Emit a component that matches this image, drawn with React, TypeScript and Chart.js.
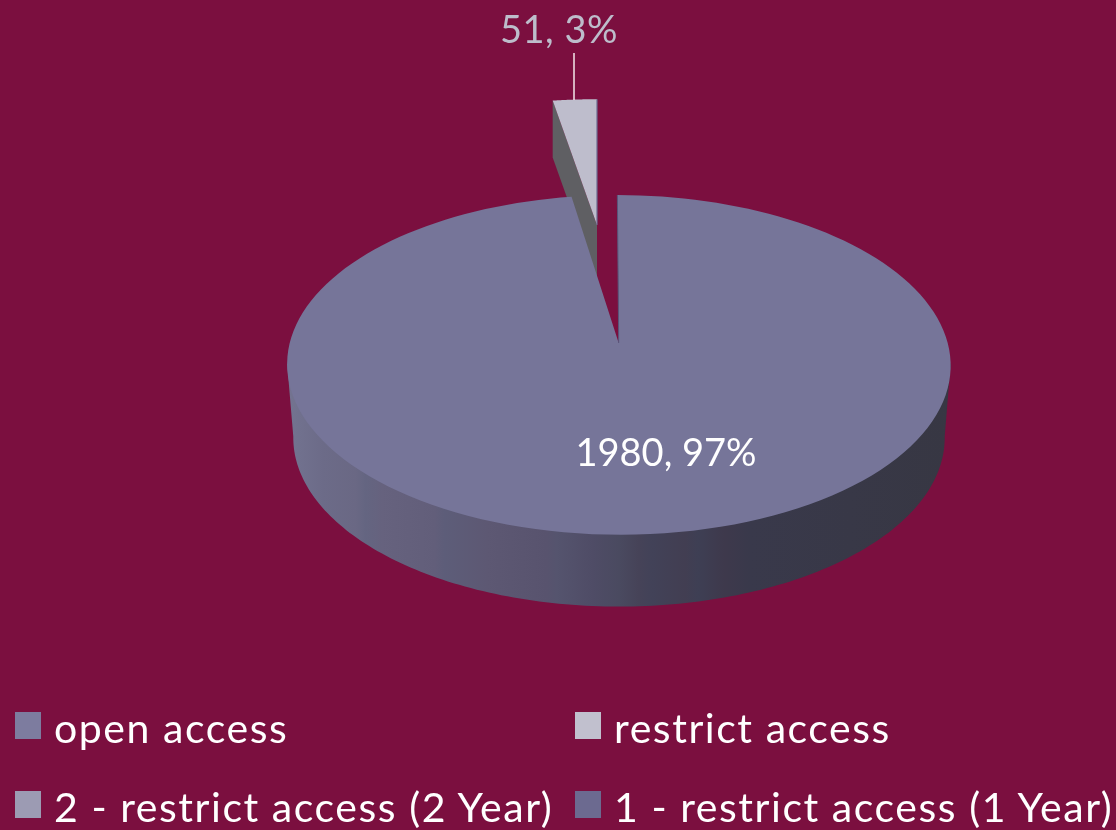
import React, { useEffect, useRef } from "react";
import { Chart, registerables } from "chart.js";

Chart.register(...registerables);

const categories = ["open access", "restrict access", "2 - restrict access (2 Year)", "1 - restrict access (1 Year)"];
const values = [1980, 51, 0, 0];
const topColors = ["#767599", "#bebdcc", "#9c9bb3", "#6c6a90"];
const legendColors = ["#7d7c9f", "#c1c0ce", "#9c9bb3", "#6c6a90"];
const wallStops: [number, string][] = [
  [0, "#737390"], [0.05, "#6c6b88"], [0.1, "#6a6884"], [0.115, "#646581"], [0.14, "#66627e"], [0.22, "#625e7a"],
  [0.235, "#5d5d79"], [0.3, "#5d5873"], [0.39, "#58536e"], [0.405, "#55546e"], [0.46, "#4f4c66"], [0.5, "#4a4a60"],
  [0.53, "#464358"], [0.55, "#424258"], [0.6, "#423e52"], [0.62, "#3e3f54"], [0.66, "#3e394c"], [0.7, "#39394b"], [1, "#373743"],
];

const BG = "#7b0f3f";
const FONT = "Lato, sans-serif";
const K = -0.129;

type Proj = { cx: number; cy: number; a: number; b: number; sh?: number };
const mainTop: Proj = { cx: 618.7, cy: 343, a: 329, b: 167, sh: 1.5 };
const mainBottom: Proj = { cx: 619, cy: 416, a: 323, b: 166 };
const smallTop: Proj = { cx: 597, cy: 225, a: 318, b: 142 };
const smallDepth = 57;

const pt = (p: Proj, theta: number, r = 1, dy = 0): [number, number] => {
  const u = r * Math.sin(theta);
  const v = -r * Math.cos(theta);
  const w = 1 + K * v;
  return [p.cx + (p.a * u + (p.sh || 0) * v) / w, p.cy + (p.b * v) / w + dy];
};

const pie3d = {
  id: "pie3d",
  beforeDatasetsDraw(chart: any) {
    const ctx: CanvasRenderingContext2D = chart.ctx;
    const arcs = chart.getDatasetMeta(0).data;
    const ang = (i: number) => {
      const { startAngle, endAngle } = arcs[i].getProps(["startAngle", "endAngle"], true);
      return [startAngle + Math.PI / 2, endAngle + Math.PI / 2];
    };
    const total = values.reduce((s, x) => s + x, 0);
    const label = (i: number) => `${values[i]}, ${Math.round((values[i] / total) * 100)}%`;
    const poly = (points: [number, number][], fill: string | CanvasGradient) => {
      ctx.beginPath();
      points.forEach(([x, y], j) => (j ? ctx.lineTo(x, y) : ctx.moveTo(x, y)));
      ctx.closePath();
      ctx.fillStyle = fill;
      ctx.fill();
    };
    const arcPts = (p: Proj, a: number, b: number, r = 1, dy = 0) => {
      const out: [number, number][] = [];
      const n = 160;
      for (let j = 0; j <= n; j++) out.push(pt(p, a + ((b - a) * j) / n, r, dy));
      return out;
    };

    ctx.save();
    // small exploded slice
    const [s0, s1] = ang(1);
    poly(
      [pt(smallTop, s0, 0), pt(smallTop, s0, 1), pt(smallTop, s0, 1, smallDepth), pt(smallTop, s0, 0, smallDepth)],
      "#5f5f63",
    );
    poly([pt(smallTop, 0, 0), ...arcPts(smallTop, s0, s1)], topColors[1]);
    ctx.strokeStyle = "#6d6c92";
    ctx.lineWidth = 1.2;
    ctx.beginPath();
    ctx.moveTo(...pt(smallTop, s1, 1));
    ctx.lineTo(...pt(smallTop, s1, 0));
    ctx.stroke();

    // main slice wall
    const [m0, m1] = ang(0);
    const wa = (97 * Math.PI) / 180;
    const wb = (263 * Math.PI) / 180;
    const grad = ctx.createLinearGradient(290, 0, 948, 0);
    wallStops.forEach(([o, c]) => grad.addColorStop(o, c));
    poly(
      [
        pt(mainTop, wa),
        ...arcPts(mainTop, wa, wb, 0.985),
        pt(mainTop, wb),
        ...arcPts(mainBottom, wa, wb).reverse(),
      ],
      grad,
    );

    // main slice top
    poly([pt(mainTop, 0, 0), ...arcPts(mainTop, m0, m1)], topColors[0]);
    ctx.strokeStyle = "#57567a";
    ctx.lineWidth = 1;
    ctx.beginPath();
    ctx.moveTo(...pt(mainTop, m0, 1));
    ctx.lineTo(...pt(mainTop, m0, 0));
    ctx.stroke();

    // data labels
    ctx.textAlign = "center";
    ctx.textBaseline = "alphabetic";
    ctx.font = `38px ${FONT}`;
    (ctx as any).letterSpacing = "0px";
    ctx.fillStyle = "#ffffff";
    ctx.fillText(label(0), 666, 466);
    (ctx as any).letterSpacing = "0.5px";
    ctx.fillStyle = "#bdbdcb";
    ctx.fillText(label(1), 559, 43);
    ctx.strokeStyle = "#f3e9eb";
    ctx.lineWidth = 1.5;
    ctx.beginPath();
    ctx.moveTo(574, 53);
    ctx.lineTo(574, 100);
    ctx.stroke();
    ctx.restore();
    return false;
  },
};

const legendPos = [
  { x: 15, swatchY: 712, base: 743 },
  { x: 575, swatchY: 712, base: 743 },
  { x: 15, swatchY: 791, base: 822 },
  { x: 575, swatchY: 791, base: 822 },
];

export default function App() {
  const ref = useRef<HTMLCanvasElement>(null);
  useEffect(() => {
    const chart = new Chart(ref.current!, {
      type: "pie",
      data: {
        labels: categories,
        datasets: [{ data: values, backgroundColor: topColors, borderWidth: 0 }],
      },
      options: {
        animation: false,
        responsive: false,
        rotation: 0,
        plugins: { legend: { display: false }, tooltip: { enabled: false } },
      },
      plugins: [pie3d],
    });
    return () => chart.destroy();
  }, []);
  return (
    <div style={{ position: "fixed", inset: 0, width: 1116, height: 830, background: BG, overflow: "hidden" }}>
      <canvas ref={ref} width={1116} height={830} style={{ position: "absolute", left: 0, top: 0, width: 1116, height: 830 }} />
      {categories.map((c, i) => (
        <React.Fragment key={c}>
          <div
            style={{
              position: "absolute",
              left: legendPos[i].x,
              top: legendPos[i].swatchY,
              width: 26,
              height: 27,
              background: legendColors[i],
            }}
          />
          <div
            style={{
              position: "absolute",
              left: legendPos[i].x + 39,
              top: legendPos[i].base - 40,
              lineHeight: "50px",
              height: 50,
              fontFamily: FONT,
              fontSize: 41,
              letterSpacing: 1.55,
              color: "#ffffff",
              whiteSpace: "nowrap",
            }}
          >
            {c}
          </div>
        </React.Fragment>
      ))}
    </div>
  );
}
